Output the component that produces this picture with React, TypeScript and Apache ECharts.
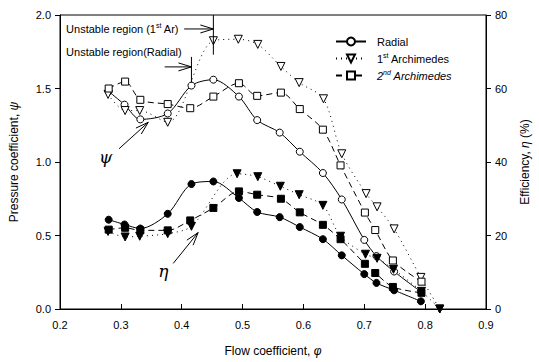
import React, { useEffect, useRef } from "react";
import * as echarts from "echarts";

// ---- data ----
const radialPhi = [0.28, 0.306, 0.332, 0.377, 0.416, 0.452, 0.494, 0.524, 0.561, 0.594, 0.632, 0.663, 0.7, 0.72, 0.749, 0.793];
const radialPsi = [1.48, 1.39, 1.29, 1.33, 1.52, 1.56, 1.445, 1.285, 1.2, 1.07, 0.925, 0.745, 0.47, 0.36, 0.255, 0.117];
const radialEta = [24.3, 23.0, 21.9, 25.9, 34.0, 34.7, 30.2, 26.4, 25.0, 22.3, 19.0, 14.6, 9.5, 7.1, 5.1, 2.1];

const ar1PsiPhi = [0.279, 0.307, 0.331, 0.377, 0.452, 0.493, 0.525, 0.563, 0.593, 0.633, 0.663, 0.703, 0.721, 0.749, 0.793, 0.824];
const ar1Psi = [1.46, 1.35, 1.35, 1.27, 1.825, 1.835, 1.8, 1.65, 1.54, 1.43, 1.056, 0.785, 0.695, 0.545, 0.215, 0];
const ar1EtaPhi = [0.279, 0.307, 0.331, 0.377, 0.416, 0.491, 0.525, 0.562, 0.593, 0.632, 0.661, 0.702, 0.721, 0.748, 0.794, 0.824];
const ar1Eta = [21.1, 19.6, 19.8, 20.5, 22.5, 36.8, 36.0, 33.4, 31.1, 28.2, 19.8, 14.9, 13.8, 10.8, 4.8, 0];

const ar2Phi = [0.28, 0.307, 0.332, 0.377, 0.414, 0.452, 0.494, 0.524, 0.563, 0.594, 0.632, 0.661, 0.701, 0.718, 0.747, 0.794];
const ar2Psi = [1.5, 1.547, 1.423, 1.394, 1.366, 1.445, 1.536, 1.45, 1.472, 1.36, 1.22, 0.977, 0.656, 0.537, 0.33, 0.186];
const ar2Eta = [21.6, 22.1, 21.4, 21.4, 24.1, 27.5, 32.0, 31.1, 30.0, 26.3, 22.9, 19.0, 12.3, 9.8, 6.0, 4.4];

const xTicks = { min: 0.2, max: 0.9, interval: 0.1 };
const psiTicks = { min: 0, max: 2, interval: 0.5 };
const etaTicks = { min: 0, max: 80, interval: 20 };

const legendNames = ["Radial", "1st Archimedes", "2nd Archimedes"];

const FONT = "'Liberation Sans', Arial, sans-serif";
const zip = (xs: number[], ys: number[]) => xs.map((x, i) => [x, ys[i]]);

export default function App() {
  const ref = useRef<HTMLDivElement>(null);
  useEffect(() => {
    if (!ref.current) return;
    const chart = echarts.init(ref.current, null, { renderer: "svg" });
    const lineBase = { color: "#000", width: 1 };
    const option: any = {
      animation: false,
      backgroundColor: "#fff",
      textStyle: { fontFamily: FONT, color: "#000" },
      grid: { left: 57, right: 50, top: 15, bottom: 52.5, show: true, borderColor: "#000", borderWidth: 1, backgroundColor: "transparent" },
      legend: {
        data: legendNames,
        orient: "vertical",
        left: 330,
        top: 31,
        itemWidth: 30,
        itemHeight: 10,
        itemGap: 5,
        icon: undefined,
        textStyle: {
          fontFamily: FONT,
          fontSize: 11,
          color: "#000",
          padding: [0, 0, 0, 6],
          rich: {
            sup: { fontSize: 7, fontFamily: FONT, color: "#000", padding: [0, 0, 6, 0] },
            i: { fontSize: 11, fontStyle: "italic", fontFamily: FONT, color: "#000" },
            supi: { fontSize: 7, fontStyle: "italic", fontFamily: FONT, color: "#000", padding: [0, 0, 6, 0] },
            n: { fontSize: 11, fontFamily: FONT, color: "#000" },
          },
        },
        formatter: (name: string) => {
          if (name === "1st Archimedes") return "{n|1}{sup|st}{n| Archimedes}";
          if (name === "2nd Archimedes") return "{i|2}{supi|nd}{i| Archimedes}";
          return "{n|" + name + "}";
        },
      },
      xAxis: {
        type: "value",
        min: xTicks.min,
        max: xTicks.max,
        interval: xTicks.interval,
        name: "{n|Flow coefficient, }{i|φ}",
        nameLocation: "middle",
        nameGap: 36,
        nameTextStyle: {
          rich: {
            n: { fontSize: 12, fontFamily: FONT, color: "#000" },
            i: { fontSize: 12, fontFamily: FONT, fontStyle: "italic", color: "#000" },
          },
        },
        axisLine: { lineStyle: { color: "#000", width: 1 } },
        axisTick: { inside: true, length: 5, lineStyle: { color: "#000" } },
        axisLabel: { fontSize: 11, color: "#000", fontFamily: FONT, margin: 10, formatter: (v: number) => v.toFixed(1) },
        splitLine: { show: false },
      },
      yAxis: [
        {
          type: "value",
          min: psiTicks.min,
          max: psiTicks.max,
          interval: psiTicks.interval,
          name: "{n|Pressure coefficient, }{i|ψ}",
          nameLocation: "middle",
          nameGap: 40,
          nameRotate: 90,
          nameTextStyle: {
            rich: {
              n: { fontSize: 12, fontFamily: FONT, color: "#000" },
              i: { fontSize: 12, fontFamily: FONT, fontStyle: "italic", color: "#000" },
            },
          },
          axisLine: { show: true, lineStyle: { color: "#000", width: 1 } },
          axisTick: { show: true, inside: false, length: 5, lineStyle: { color: "#000" } },
          axisLabel: { fontSize: 11, color: "#000", fontFamily: FONT, margin: 9, formatter: (v: number) => v.toFixed(1) },
          splitLine: { show: false },
        },
        {
          type: "value",
          position: "right",
          min: etaTicks.min,
          max: etaTicks.max,
          interval: etaTicks.interval,
          name: "{n|Efficiency, }{i|η}{n| (%)}",
          nameLocation: "middle",
          nameGap: 33,
          nameRotate: 90,
          nameTextStyle: {
            rich: {
              n: { fontSize: 12, fontFamily: FONT, color: "#000" },
              i: { fontSize: 12, fontFamily: FONT, fontStyle: "italic", color: "#000" },
            },
          },
          axisLine: { show: true, lineStyle: { color: "#000", width: 1 } },
          axisTick: { show: true, inside: false, length: 5, lineStyle: { color: "#000" } },
          axisLabel: { fontSize: 11, color: "#000", fontFamily: FONT, margin: 9 },
          splitLine: { show: false },
        },
      ],
      series: [
        {
          name: "Radial", type: "line", yAxisIndex: 0, smooth: 0.3,
          data: zip(radialPhi, radialPsi),
          symbol: "circle", symbolSize: 7,
          itemStyle: { color: "#fff", borderColor: "#000", borderWidth: 1 },
          lineStyle: { ...lineBase, type: "solid" }, z: 3,
        },
        {
          name: "1st Archimedes", type: "line", yAxisIndex: 0, smooth: 0.3,
          data: zip(ar1PsiPhi, ar1Psi),
          symbol: "triangle", symbolRotate: 180, symbolSize: 8,
          itemStyle: { color: "#fff", borderColor: "#000", borderWidth: 1 },
          lineStyle: { ...lineBase, type: [1, 4] }, z: 3,
        },
        {
          name: "2nd Archimedes", type: "line", yAxisIndex: 0, smooth: 0.3,
          data: zip(ar2Phi, ar2Psi),
          symbol: "rect", symbolSize: 7,
          itemStyle: { color: "#fff", borderColor: "#000", borderWidth: 1 },
          lineStyle: { ...lineBase, type: [6, 4] }, z: 3,
        },
        {
          name: "Radial η", type: "line", yAxisIndex: 1, smooth: 0.3,
          data: zip(radialPhi, radialEta),
          symbol: "circle", symbolSize: 7,
          itemStyle: { color: "#000", borderColor: "#000", borderWidth: 1 },
          lineStyle: { ...lineBase, type: "solid" }, z: 3,
        },
        {
          name: "1st Archimedes η", type: "line", yAxisIndex: 1, smooth: 0.3,
          data: zip(ar1EtaPhi, ar1Eta),
          symbol: "triangle", symbolRotate: 180, symbolSize: 8,
          itemStyle: { color: "#000", borderColor: "#000", borderWidth: 1 },
          lineStyle: { ...lineBase, type: [1, 4] }, z: 3,
        },
        {
          name: "2nd Archimedes η", type: "line", yAxisIndex: 1, smooth: 0.3,
          data: zip(ar2Phi, ar2Eta),
          symbol: "rect", symbolSize: 7,
          itemStyle: { color: "#000", borderColor: "#000", borderWidth: 1 },
          lineStyle: { ...lineBase, type: [6, 4] }, z: 3,
        },
      ],
    };
    chart.setOption(option);

    // annotations, anchored to data coordinates (phi, psi)
    const px = (p: number[]) => chart.convertToPixel({ gridIndex: 0 } as any, p) as number[];
    const stroke = { stroke: "#000", lineWidth: 1, fill: "none" };
    const line = (a: number[], b: number[]) => ({ type: "line", shape: { x1: a[0], y1: a[1], x2: b[0], y2: b[1] }, style: stroke, z: 10 });
    const head = (from: number[], to: number[], len = 13, half = 4) => {
      const dx = to[0] - from[0], dy = to[1] - from[1];
      const L = Math.hypot(dx, dy) || 1;
      const ux = dx / L, uy = dy / L;
      const bx = to[0] - ux * len, by = to[1] - uy * len;
      return {
        type: "polyline",
        shape: { points: [[bx - uy * half, by + ux * half], to, [bx + uy * half, by - ux * half]] },
        style: stroke, z: 10,
      };
    };
    const arrow = (a: number[], b: number[]) => [line(a, b), head(a, b)];

    const t1 = px([0.21, 1.905]);
    const a1s = px([0.404, 1.905]), a1e = px([0.452, 1.905]);
    const v1a = px([0.452, 2.0]), v1b = px([0.452, 1.73]);
    const t2 = px([0.21, 1.745]);
    const a2s = px([0.372, 1.647]), a2e = px([0.416, 1.647]);
    const v2a = px([0.416, 1.715]), v2b = px([0.416, 1.54]);
    const psiL = px([0.275, 1.035]);
    const psiS = px([0.297, 1.09]), psiE = px([0.345, 1.27]);
    const etaL = px([0.37, 0.26]);
    const etaS = px([0.386, 0.31]), etaE = px([0.427, 0.52]);

    const txtRich = {
      n: { fontSize: 11, fontFamily: FONT, fill: "#000" },
      sup: { fontSize: 7, fontFamily: FONT, fill: "#000", padding: [0, 0, 6, 0] },
    };
    chart.setOption({
      graphic: [
        { type: "text", x: t1[0], y: t1[1], z: 10, style: { text: "{n|Unstable region (1}{sup|st}{n| Ar)}", rich: txtRich, verticalAlign: "middle", align: "left" } },
        ...arrow(a1s, a1e),
        line(v1a, v1b),
        { type: "text", x: t2[0], y: t2[1], z: 10, style: { text: "Unstable region(Radial)", fontSize: 11, fontFamily: FONT, fill: "#000", verticalAlign: "middle", align: "left" } },
        ...arrow(a2s, a2e),
        line(v2a, v2b),
        { type: "text", x: psiL[0], y: psiL[1], z: 10, style: { text: "ψ", fontSize: 17, fontStyle: "italic", fontFamily: "'DejaVu Serif', serif", fill: "#000", align: "center", verticalAlign: "middle" } },
        ...arrow(psiS, psiE),
        { type: "text", x: etaL[0], y: etaL[1], z: 10, style: { text: "η", fontSize: 17, fontStyle: "italic", fontFamily: "'DejaVu Serif', serif", fill: "#000", align: "center", verticalAlign: "middle" } },
        ...arrow(etaS, etaE),
      ],
    });
    return () => chart.dispose();
  }, []);
  return <div ref={ref} style={{ width: 539, height: 362, position: "absolute", left: 0, top: 0, background: "#fff" }} />;
}
